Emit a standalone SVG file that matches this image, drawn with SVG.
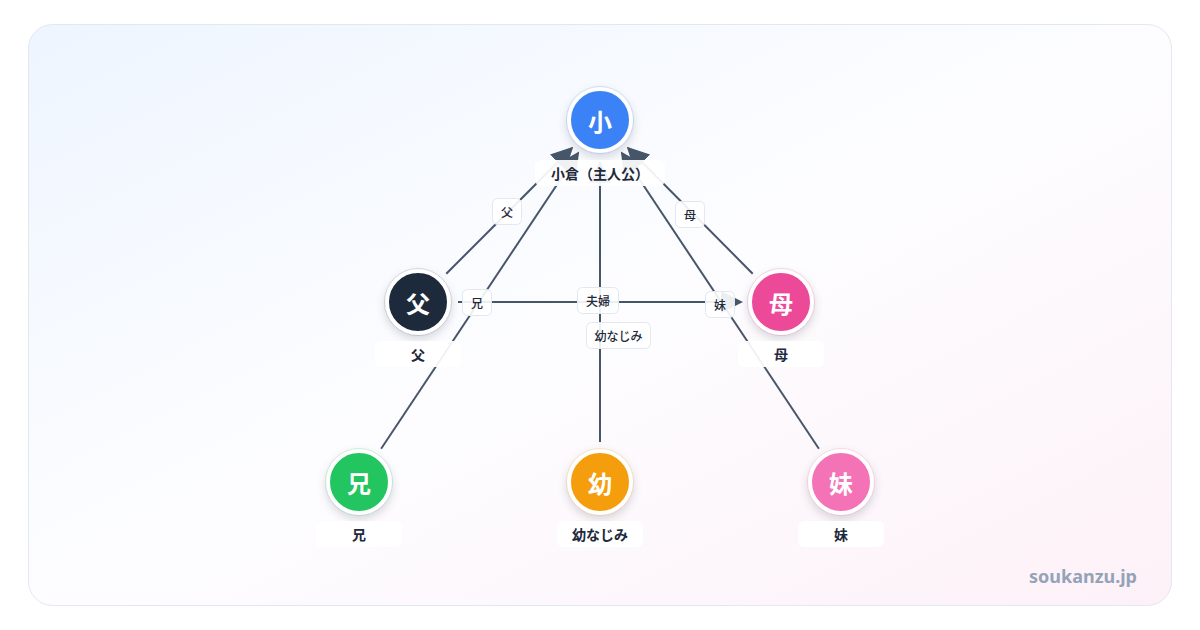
<svg xmlns="http://www.w3.org/2000/svg" width="1200" height="630" viewBox="0 0 1200 630">
<defs>
<linearGradient id="bg" x1="0" y1="0" x2="1" y2="1">
<stop offset="0" stop-color="#eef5ff"/>
<stop offset="0.5" stop-color="#fdfdff"/>
<stop offset="1" stop-color="#fdf1f7"/>
</linearGradient>
<filter id="sh" x="-50%" y="-50%" width="200%" height="200%">
<feDropShadow dx="0" dy="4" stdDeviation="5" flood-color="#0f172a" flood-opacity="0.16"/>
</filter>
<marker id="arr" viewBox="0 0 10 10" refX="9" refY="5" markerWidth="22" markerHeight="22" markerUnits="userSpaceOnUse" orient="auto">
<path d="M0,0 L10,5 L0,10 Z" fill="#475569"/>
</marker>
<style>
.edge{stroke:#475569;stroke-width:2;fill:none;marker-end:url(#arr)}
.elbox{fill:#ffffff;fill-opacity:0.9;stroke:#e2e8f0;stroke-width:1}
.eltxt{font-family:"Noto Sans CJK JP","Noto Sans",sans-serif;font-size:12px;font-weight:500;fill:#1e293b;text-anchor:middle;dominant-baseline:central}
.ring{stroke:#ffffff;stroke-width:4}
.glyph{font-family:"Noto Sans CJK JP","Noto Sans",sans-serif;font-size:24px;font-weight:700;fill:#ffffff;text-anchor:middle;dominant-baseline:central}
.nlbox{fill:#ffffff;fill-opacity:0.92}
.nltxt{font-family:"Noto Sans CJK JP","Noto Sans",sans-serif;font-size:14px;font-weight:700;fill:#1e293b;text-anchor:middle;dominant-baseline:central}
</style>
</defs>
<rect x="0" y="0" width="1200" height="630" fill="#ffffff"/>
<rect x="28.5" y="24.5" width="1143" height="581" rx="24" fill="url(#bg)" stroke="#e2e8f0" stroke-width="1"/>

<g id="connectors">
<line class="edge" x1="446.3" y1="273.7" x2="571.7" y2="148.3"/>
<line class="edge" x1="381.1" y1="448.7" x2="577.9" y2="153.3"/>
<line class="edge" x1="600" y1="442" x2="600" y2="163"/>
<line class="edge" x1="752.7" y1="273.7" x2="628.3" y2="148.3"/>
<line class="edge" x1="818.9" y1="448.7" x2="622.1" y2="153.3"/>
<line class="edge" x1="458" y1="302" x2="741" y2="302"/>
<g id="edge-labels">
<rect class="elbox" x="492.5" y="198.5" width="29" height="26" rx="5"/>
<text class="eltxt" x="507" y="211.5">父</text>
<rect class="elbox" x="462.5" y="289.5" width="29" height="26" rx="5"/>
<text class="eltxt" x="477" y="302.5">兄</text>
<rect class="elbox" x="675.5" y="201.5" width="29" height="26" rx="5"/>
<text class="eltxt" x="690" y="214.5">母</text>
<rect class="elbox" x="577.5" y="287.5" width="41" height="26" rx="5"/>
<text class="eltxt" x="598" y="300.5">夫婦</text>
<rect class="elbox" x="705.5" y="291.5" width="29" height="26" rx="5"/>
<text class="eltxt" x="720" y="304.5">妹</text>
<rect class="elbox" x="586.5" y="322.5" width="64" height="26" rx="5"/>
<text class="eltxt" x="618.5" y="335.5">幼なじみ</text>
</g>
</g>

<g id="node-oguro">
<circle cx="600" cy="120" r="31" fill="#3b82f6" class="ring" filter="url(#sh)"/>
<circle cx="600" cy="120" r="33.5" fill="none" stroke="#3b82f6" stroke-opacity="0.2" stroke-width="1"/>
<text class="glyph" x="600" y="120">小</text>
<rect class="nlbox" x="535" y="160" width="130" height="26" rx="6" fill-opacity="0.97"/>
<text class="nltxt" x="600" y="173">小倉（主人公）</text>
</g>

<g id="node-father">
<circle cx="418" cy="302" r="31" fill="#1e293b" class="ring" filter="url(#sh)"/>
<circle cx="418" cy="302" r="33.5" fill="none" stroke="#1e293b" stroke-opacity="0.15" stroke-width="1"/>
<text class="glyph" x="418" y="302">父</text>
<rect class="nlbox" x="375" y="341" width="86" height="26" rx="6"/>
<text class="nltxt" x="418" y="354">父</text>
</g>

<g id="node-mother">
<circle cx="781" cy="302" r="31" fill="#ec4899" class="ring" filter="url(#sh)"/>
<circle cx="781" cy="302" r="33.5" fill="none" stroke="#ec4899" stroke-opacity="0.2" stroke-width="1"/>
<text class="glyph" x="781" y="302">母</text>
<rect class="nlbox" x="738" y="341" width="86" height="26" rx="6"/>
<text class="nltxt" x="781" y="354">母</text>
</g>

<g id="node-brother">
<circle cx="359" cy="482" r="31" fill="#22c55e" class="ring" filter="url(#sh)"/>
<circle cx="359" cy="482" r="33.5" fill="none" stroke="#22c55e" stroke-opacity="0.2" stroke-width="1"/>
<text class="glyph" x="359" y="482">兄</text>
<rect class="nlbox" x="316" y="521" width="86" height="26" rx="6"/>
<text class="nltxt" x="359" y="534">兄</text>
</g>

<g id="node-childhood">
<circle cx="600" cy="482" r="31" fill="#f59e0b" class="ring" filter="url(#sh)"/>
<circle cx="600" cy="482" r="33.5" fill="none" stroke="#f59e0b" stroke-opacity="0.2" stroke-width="1"/>
<text class="glyph" x="600" y="482">幼</text>
<rect class="nlbox" x="557" y="521" width="86" height="26" rx="6"/>
<text class="nltxt" x="600" y="534">幼なじみ</text>
</g>

<g id="node-sister">
<circle cx="841" cy="482" r="31" fill="#f472b6" class="ring" filter="url(#sh)"/>
<circle cx="841" cy="482" r="33.5" fill="none" stroke="#f472b6" stroke-opacity="0.2" stroke-width="1"/>
<text class="glyph" x="841" y="482">妹</text>
<rect class="nlbox" x="798" y="521" width="86" height="26" rx="6"/>
<text class="nltxt" x="841" y="534">妹</text>
</g>

<text x="1137" y="583" font-family="'Noto Sans','Open Sans',sans-serif" font-size="18" font-weight="700" fill="#94a3b8" text-anchor="end">soukanzu.jp</text>
</svg>
